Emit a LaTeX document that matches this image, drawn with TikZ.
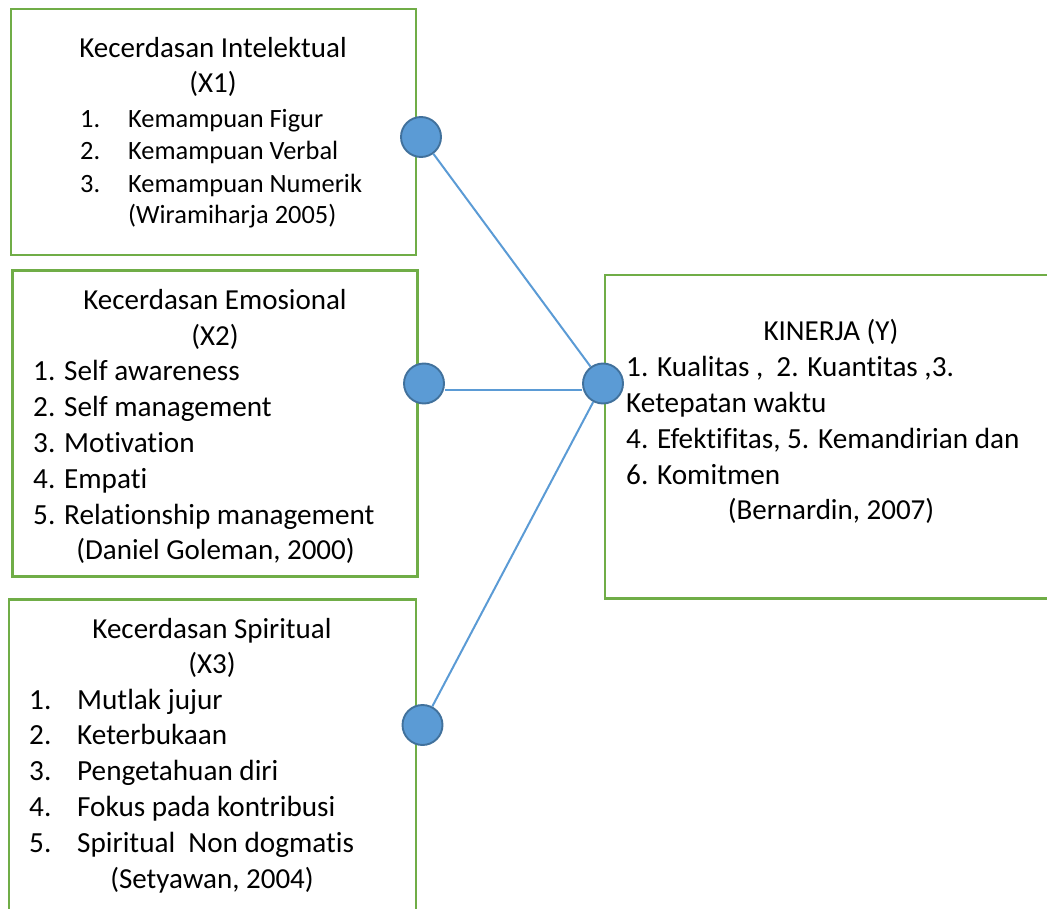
\documentclass[tikz,border=0pt]{standalone}
\usepackage{fontspec}
\setmainfont{Carlito}[Ligatures=NoCommon]
\usetikzlibrary{calc}

\begin{document}
\begin{tikzpicture}[x=1pt,y=1pt,yscale=-1,xscale=1,
  kotak/.style={draw={rgb, 255:red, 112; green, 173; blue, 71}, line width=2.6pt, inner sep=0pt},
  bulat/.style={circle, draw={rgb, 255:red, 65; green, 113; blue, 156}, fill={rgb, 255:red, 91; green, 155; blue, 213}, line width=1.9pt, minimum size=40pt, inner sep=0pt},
  garis/.style={draw={rgb, 255:red, 91; green, 155; blue, 213}, line width=2pt},
  judul/.style={anchor=base, inner sep=0pt, font=\fontsize{29}{35}\selectfont},
  teks/.style={anchor=base west, inner sep=0pt, font=\fontsize{29.2}{35}\selectfont},
  teksk/.style={anchor=base west, inner sep=0pt, font=\fontsize{26.4}{32}\selectfont}]
\useasboundingbox (0,0) rectangle (1047,909);
\clip (0,0) rectangle (1047,909);

%Shape: Rectangle
\node [kotak, minimum width=405pt, minimum height=246pt] (boxX1) at (213.4,132) {};
%Shape: Rectangle
\node [kotak, minimum width=405pt, minimum height=306pt] (boxX2) at (215,423.7) {};
%Shape: Rectangle
\node [kotak, minimum width=407pt, minimum height=331pt] (boxX3) at (212.5,764.8) {};
%Shape: Rectangle
\node [kotak, minimum width=452pt, minimum height=323pt] (boxY) at (831,436.7) {};

%Shape: Circle
\node [bulat] (dotX1) at (421,137) {};
\node [bulat] (dotX2) at (424,383.5) {};
\node [bulat] (dotX3) at (422.5,725) {};
\node [bulat] (dotY) at (603,383.5) {};

%Straight Lines
\draw [garis] (dotX1) -- (dotY);
\draw [garis] ($(dotX2.east)+(0,6.5)$) -- ($(dotY.west)+(0,6.5)$);
\draw [garis] (dotX3) -- (dotY);

% Text Node
\node [judul] (judulX1) at (213,58) {Kecerdasan Intelektual};
\node [judul] (kodeX1) at (213,93) {(X1)};
\node [teksk] (noX1a) at (80,127.5) {1.};
\node [teksk] (itemX1a) at (128,127.5) {Kemampuan Figur};
\node [teksk] (noX1b) at (80,160) {2.};
\node [teksk] (itemX1b) at (128,160) {Kemampuan Verbal};
\node [teksk] (noX1c) at (80,192.3) {3.};
\node [teksk] (itemX1c) at (128,192.3) {Kemampuan Numerik};
\node [teksk] (sumberX1) at (128,223.5) {(Wiramiharja 2005)};

% Text Node
\node [judul] (judulX2) at (215,309.3) {Kecerdasan Emosional};
\node [judul] (kodeX2) at (215,345.3) {(X2)};
\node [teks] (itemX2a) at (33,380) {1. Self awareness};
\node [teks] (itemX2b) at (33,416) {2. Self management};
\node [teks] (itemX2c) at (33,452) {3. Motivation};
\node [teks] (itemX2d) at (33,488) {4. Empati};
\node [teks] (itemX2e) at (33,524) {5. Relationship management};
\node [judul] (sumberX2) at (215.5,559.5) {(Daniel Goleman, 2000)};

% Text Node
\node [judul] (judulX3) at (212,638.3) {Kecerdasan Spiritual};
\node [judul] (kodeX3) at (212,673.5) {(X3)};
\node [teks] (noX3a) at (29,709) {1.};
\node [teks] (itemX3a) at (77,709) {Mutlak jujur};
\node [teks] (noX3b) at (29,744.8) {2.};
\node [teks] (itemX3b) at (77,744.8) {Keterbukaan};
\node [teks] (noX3c) at (29,780.6) {3.};
\node [teks] (itemX3c) at (77,780.6) {Pengetahuan diri};
\node [teks] (noX3d) at (29,816.4) {4.};
\node [teks] (itemX3d) at (77,816.4) {Fokus pada kontribusi};
\node [teks] (noX3e) at (29,852.2) {5.};
\node [teks] (itemX3e) at (77,852.2) {Spiritual\ \ Non dogmatis};
\node [judul] (sumberX3) at (212,888) {(Setyawan, 2004)};

% Text Node
\node [judul] (judulY) at (831,341) {KINERJA (Y)};
\node [teks] (itemYa) at (626,376.7) {1. Kualitas ,\ \ 2. Kuantitas ,3.};
\node [teks] (itemYb) at (626,412.7) {Ketepatan waktu};
\node [teks] (itemYc) at (626,448.3) {4. Efektifitas, 5. Kemandirian dan};
\node [teks] (itemYd) at (626,484) {6. Komitmen};
\node [judul] (sumberY) at (831,519.5) {(Bernardin, 2007)};

\end{tikzpicture}
\end{document}
